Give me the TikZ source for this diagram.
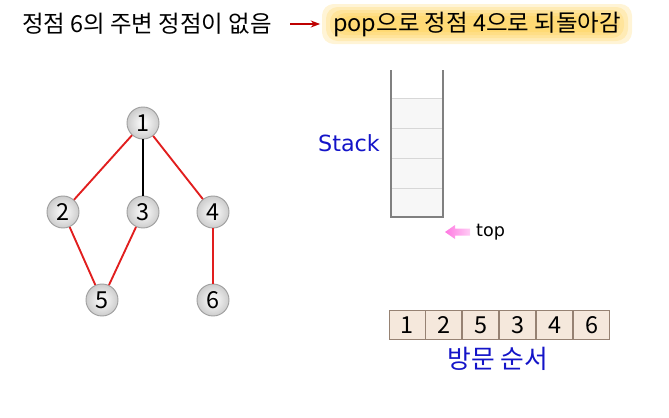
\documentclass[tikz,border=0pt]{standalone}
\usepackage{fontspec}
\setmainfont{Noto Sans CJK KR}
\newfontfamily\latinfont{DejaVu Sans}
\usetikzlibrary{positioning,arrows.meta}
\definecolor{edgered}{RGB}{225,30,30}
\definecolor{darkred}{RGB}{190,0,0}
\definecolor{stackgray}{RGB}{128,128,128}
\definecolor{slotgray}{RGB}{215,215,215}
\definecolor{textblue}{RGB}{20,20,200}
\definecolor{boxfill}{RGB}{245,232,220}
\definecolor{boxline}{RGB}{150,130,115}
\definecolor{glow}{RGB}{255,200,50}
\begin{document}
\begin{tikzpicture}[x=0.03cm,y=-0.03cm,
    vertex/.style={circle,draw=gray!75,line width=0.8pt,inner sep=0pt,minimum size=0.96cm,
      inner color=white,outer color=gray!40,font=\fontsize{20}{20}\selectfont},
    tree/.style={line width=1.6pt,draw=edgered},
    slot/.style={draw=slotgray,line width=0.8pt},
    halo/.style={fill=glow,opacity=0.2,rounded corners=10pt},
    visit/.style={draw=boxline,fill=boxfill,line width=0.8pt,minimum width=1.08cm,
      minimum height=0.87cm,inner sep=0pt,font=\fontsize{20}{20}\selectfont}]
    %myborder
    \useasboundingbox (0,0) rectangle (669,417);

    %title
    \node[anchor=west,inner sep=0pt,font=\fontsize{20}{20}\selectfont] (msg) at (22,24) {정점 6의 주변 정점이 없음};
    \fill [halo] (322,4) rectangle (632,44);
    \fill [halo] (326,7) rectangle (628,41);
    \fill [halo] (330,10) rectangle (624,38);
    \fill [halo] (334,13) rectangle (620,35);
    \fill [halo] (338,16) rectangle (616,32);
    \node[anchor=west,inner sep=0pt,font=\fontsize{20}{20}\selectfont] (pop) at (333,24) {pop으로 정점 4으로 되돌아감};
    \coordinate (a) at (290,24);
    \draw [-{Stealth[length=8pt,width=6pt]},darkred,line width=1pt,shorten >=11pt] (a) -- (pop.west);

    %graph
    \node[vertex] (n1) at (143,123) {1};
    \node[vertex] (n2) at (63,212) {2};
    \node[vertex] (n3) at (143,212) {3};
    \node[vertex] (n4) at (213,212) {4};
    \node[vertex] (n5) at (102,300) {5};
    \node[vertex] (n6) at (213,300) {6};
    \draw [tree] (n1) -- (n2);
    \draw [line width=1.6pt] (n1) -- (n3);
    \draw [tree] (n1) -- (n4);
    \draw [tree] (n2) -- (n5);
    \draw [tree] (n3) -- (n5);
    \draw [tree] (n4) -- (n6);

    %stack
    \fill [gray!6] (392,98) rectangle (442,216);
    \draw [slot] (392,98) -- (442,98) (392,128) -- (442,128) (392,158) -- (442,158) (392,188) -- (442,188);
    \draw [stackgray,line width=1.5pt] (391,70) -- (391,217) -- (443,217) -- (443,70);
    \node[textblue,font=\latinfont\fontsize{19}{19}\selectfont] (stk) at (349,143) {Stack};

    %top pointer
    \shade [left color={rgb,255:red,255;green,120;blue,225},right color={rgb,255:red,255;green,205;blue,245}]
      (445,232) -- (455,225) -- (455,228.5) -- (470,228.5) -- (470,235.5) -- (455,235.5) -- (455,239) -- cycle;
    \node[anchor=west,font=\latinfont\fontsize{15}{15}\selectfont] (top) at (472,232) {top};

    %visit order
    \node[visit] (v1) at (407,325) {1};
    \node[visit,right=0pt of v1] (v2) {2};
    \node[visit,right=0pt of v2] (v3) {5};
    \node[visit,right=0pt of v3] (v4) {3};
    \node[visit,right=0pt of v4] (v5) {4};
    \node[visit,right=0pt of v5] (v6) {6};
    \node[textblue,font=\fontsize{22}{22}\selectfont] (order) at (498,359) {방문 순서};

\end{tikzpicture}
\end{document}
